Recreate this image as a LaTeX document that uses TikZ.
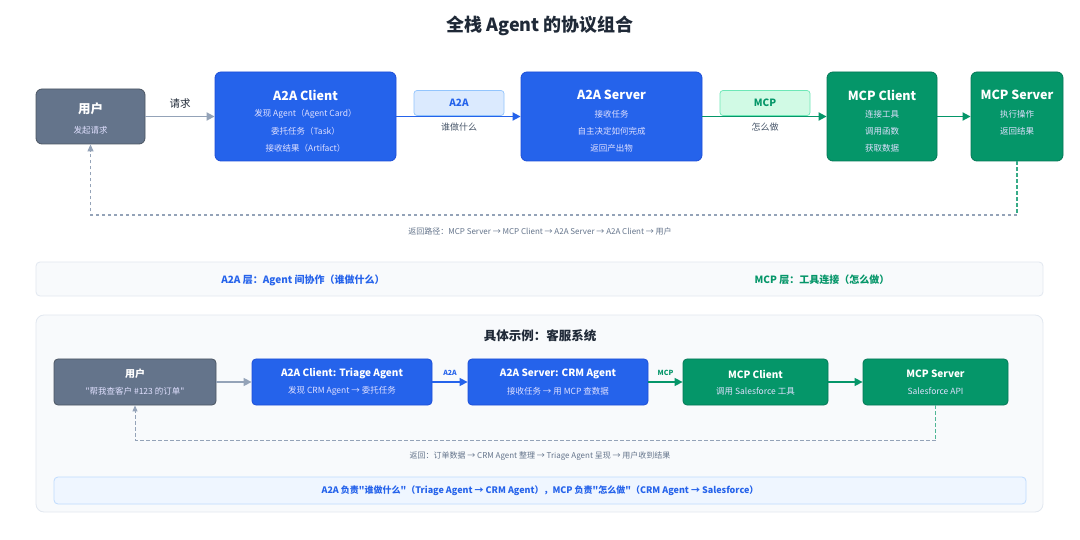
\documentclass[tikz,border=0pt]{standalone}
\usepackage{fontspec}
\setmainfont{Noto Sans CJK SC}[Ligatures=TeXOff]
\usetikzlibrary{arrows.meta}

\definecolor{slatebox}{HTML}{64748B}
\definecolor{slateline}{HTML}{4B5563}
\definecolor{bluebox}{HTML}{2563EB}
\definecolor{blueline}{HTML}{1D4ED8}
\definecolor{greenbox}{HTML}{059669}
\definecolor{greenline}{HTML}{047857}
\definecolor{arrowgray}{HTML}{94A3B8}
\definecolor{tagblue}{HTML}{DBEAFE}
\definecolor{tagblueline}{HTML}{93C5FD}
\definecolor{taggreen}{HTML}{D1FAE5}
\definecolor{taggreenline}{HTML}{6EE7B7}
\definecolor{panelfill}{HTML}{F8FAFC}
\definecolor{panelline}{HTML}{E2E8F0}
\definecolor{darktext}{HTML}{1F2937}
\definecolor{midtext}{HTML}{475569}
\definecolor{softtext}{HTML}{64748B}
\definecolor{notefill}{HTML}{EFF6FF}
\definecolor{noteline}{HTML}{BFDBFE}

\newcommand{\fsz}[1]{\fontsize{#1}{#1}\selectfont}

\tikzset{
  card/.style={rounded corners=6pt, line width=0.8pt, inner sep=0pt},
  usercard/.style={card, fill=slatebox, draw=slateline},
  a2acard/.style={card, fill=bluebox, draw=blueline},
  mcpcard/.style={card, fill=greenbox, draw=greenline},
  ttl/.style={text=white, font=\bfseries\fsz{12.5}, inner sep=0pt},
  sub/.style={text=white!88!blue, font=\fsz{8.5}, inner sep=0pt},
  rowttl/.style={text=white, font=\bfseries\fsz{10}, inner sep=0pt},
  rowsub/.style={text=white!88!blue, font=\fsz{8.5}, inner sep=0pt},
  tag/.style={rounded corners=3pt, line width=0.7pt, minimum width=90pt, minimum height=25pt, inner sep=0pt, font=\bfseries\fsz{10}},
  flow/.style={line width=1.8pt, -{Triangle[length=8pt,width=8pt]}},
  back/.style={line width=1.1pt, dash pattern=on 3.5pt off 2.5pt},
  note/.style={inner sep=0pt, font=\fsz{8}, text=softtext}
}

\begin{document}
\begin{tikzpicture}[x=1pt,y=-1pt]
    \useasboundingbox[fill=white] (0,0) rectangle (1080,540);

    % title
    \node[font=\bfseries\fsz{18}, text=darktext, inner sep=0pt] (title) at (540,26) {全栈 Agent 的协议组合};

    % top row
    \node[usercard, minimum width=109pt, minimum height=55pt] (user) at (90.5,116.5) {};
    \node[ttl] (usert) at (90.5,109) {用户};
    \node[sub] (users) at (90.5,130) {发起请求};

    \node[a2acard, minimum width=181pt, minimum height=89pt] (ac) at (305.5,116.5) {};
    \node[ttl] (act) at (305.5,95) {A2A Client};
    \node[sub] (ac1) at (305.5,114) {发现 Agent（Agent Card）};
    \node[sub] (ac2) at (305.5,131) {委托任务（Task）};
    \node[sub] (ac3) at (305.5,148) {接收结果（Artifact）};

    \node[a2acard, minimum width=181pt, minimum height=89pt] (as) at (611.5,116.5) {};
    \node[ttl] (ast) at (611.5,95) {A2A Server};
    \node[sub] (as1) at (611.5,114) {接收任务};
    \node[sub] (as2) at (611.5,131) {自主决定如何完成};
    \node[sub] (as3) at (611.5,148) {返回产出物};

    \node[mcpcard, minimum width=110pt, minimum height=89pt] (mc) at (882,116.5) {};
    \node[ttl] (mct) at (882,95) {MCP Client};
    \node[sub] (mc1) at (882,114) {连接工具};
    \node[sub] (mc2) at (882,131) {调用函数};
    \node[sub] (mc3) at (882,148) {获取数据};

    \node[mcpcard, minimum width=92pt, minimum height=89pt] (ms) at (1017,116.5) {};
    \node[ttl] (mst) at (1017,95) {MCP Server};
    \node[sub] (ms1) at (1017,114) {执行操作};
    \node[sub] (ms2) at (1017,131) {返回结果};

    % protocol tags
    \node[tag, fill=tagblue, draw=tagblueline, text=bluebox] (a2atag) at (459,103) {A2A};
    \node[tag, fill=taggreen, draw=taggreenline, text=greenbox] (mcptag) at (765,103) {MCP};

    \draw[flow, arrowgray] (user.east) -- (ac.west) node[midway, above=7pt, font=\fsz{10.5}, text=darktext, inner sep=0pt] (req) {请求};
    \draw[flow, bluebox] (ac.east) -- (as.west);
    \draw[flow, greenbox] (as.east) -- (mc.west);
    \draw[flow, greenbox] (mc.east) -- (ms.west);
    \node[font=\fsz{9}, text=midtext, inner sep=0pt] (who) at (459,127) {谁做什么};
    \node[font=\fsz{9}, text=midtext, inner sep=0pt] (how) at (765,127) {怎么做};

    % return path
    \coordinate (r1) at (1017,215);
    \coordinate (r2) at (90.5,215);
    \draw[back, greenbox!80] (ms.south) -- (r1);
    \draw[back, arrowgray, -{Triangle[length=7pt,width=6pt]}] (r1) -- (r2) -- (user.south);
    \node[note] (backnote) at (540,231) {返回路径：MCP Server → MCP Client → A2A Server → A2A Client → 用户};

    % layer band
    \node[rounded corners=4pt, fill=panelfill, draw=panelline, line width=0.8pt, minimum width=1007pt, minimum height=34pt] (layers) at (539.5,279) {};
    \node[font=\bfseries\fsz{10}, text=bluebox, inner sep=0pt] (a2alayer) at (303,280) {A2A 层：Agent 间协作（谁做什么）};
    \node[font=\bfseries\fsz{10}, text=greenbox, inner sep=0pt] (mcplayer) at (822,280) {MCP 层：工具连接（怎么做）};

    % example panel
    \node[rounded corners=8pt, fill=panelfill, draw=panelline, line width=0.8pt, minimum width=1007pt, minimum height=197pt] (panel) at (539.5,413.5) {};
    \node[font=\bfseries\fsz{12.5}, text=darktext, inner sep=0pt] (extitle) at (540,336) {具体示例：客服系统};

    \node[usercard, rounded corners=4pt, minimum width=162pt, minimum height=46pt] (xuser) at (135,382) {};
    \node[rowttl] at (135,374) {用户};
    \node[rowsub] at (135,391) {"帮我查客户 \#123 的订单"};

    \node[a2acard, rounded corners=4pt, minimum width=180pt, minimum height=46pt] (xac) at (342,382) {};
    \node[rowttl] at (342,374) {A2A Client: Triage Agent};
    \node[rowsub] at (342,391) {发现 CRM Agent → 委托任务};

    \node[a2acard, rounded corners=4pt, minimum width=180pt, minimum height=46pt] (xas) at (558,382) {};
    \node[rowttl] at (558,374) {A2A Server: CRM Agent};
    \node[rowsub] at (558,391) {接收任务 → 用 MCP 查数据};

    \node[mcpcard, rounded corners=4pt, minimum width=145pt, minimum height=46pt] (xmc) at (755.5,382) {};
    \node[rowttl] at (755.5,374) {MCP Client};
    \node[rowsub] at (755.5,391) {调用 Salesforce 工具};

    \node[mcpcard, rounded corners=4pt, minimum width=145pt, minimum height=46pt] (xms) at (935.5,382) {};
    \node[rowttl] at (935.5,374) {MCP Server};
    \node[rowsub] at (935.5,391) {Salesforce API};

    \draw[flow, line width=1.4pt, arrowgray] (xuser.east) -- (xac.west);
    \draw[flow, line width=1.4pt, bluebox] (xac.east) -- (xas.west) node[midway, above=6pt, font=\bfseries\fsz{7}, inner sep=0pt] (xa2a) {A2A};
    \draw[flow, line width=1.4pt, greenbox] (xas.east) -- (xmc.west) node[midway, above=6pt, font=\bfseries\fsz{7}, inner sep=0pt] (xmcp) {MCP};
    \draw[flow, line width=1.4pt, greenbox] (xmc.east) -- (xms.west);

    \coordinate (x1) at (935.5,440);
    \coordinate (x2) at (135,440);
    \draw[back, line width=0.9pt, greenbox!70] (xms.south) -- (x1);
    \draw[back, line width=0.9pt, arrowgray, -{Triangle[length=6pt,width=5pt]}] (x1) -- (x2) -- (xuser.south);
    \node[note] (xbacknote) at (540,456) {返回：订单数据 → CRM Agent 整理 → Triage Agent 呈现 → 用户收到结果};

    \node[rounded corners=4pt, fill=notefill, draw=noteline, line width=0.8pt, minimum width=972pt, minimum height=27pt] (summary) at (540,490.5) {};
    \node[font=\bfseries\fsz{9}, text=bluebox, inner sep=0pt] (sumtext) at (540,491) {A2A 负责"谁做什么"（Triage Agent → CRM Agent），MCP 负责"怎么做"（CRM Agent → Salesforce）};
\end{tikzpicture}
\end{document}
